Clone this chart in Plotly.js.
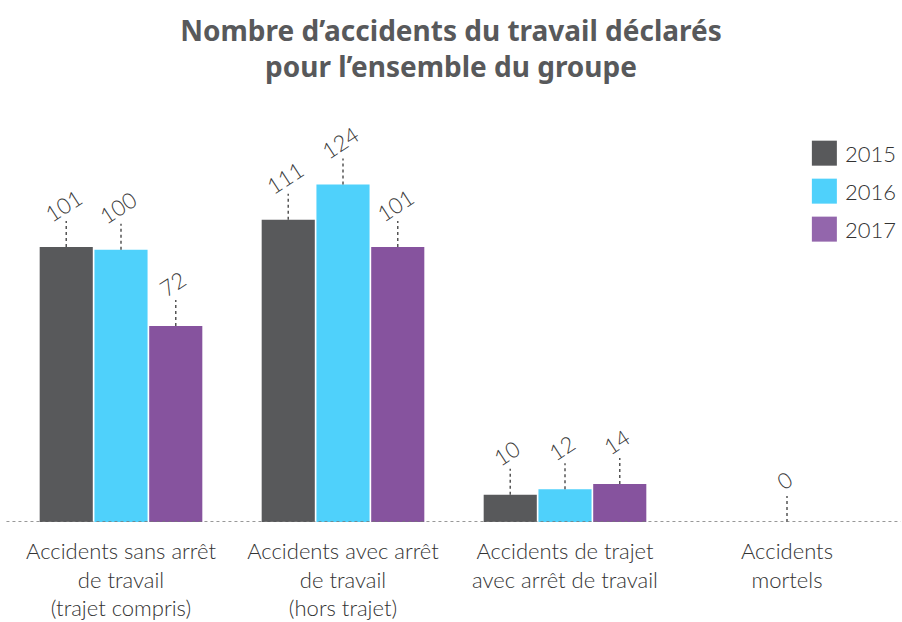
<!DOCTYPE html>
<html>
<head>
<meta charset="utf-8">
<script src="https://cdn.plot.ly/plotly-3.0.1.min.js"></script>
<style>html,body{margin:0;padding:0;background:#fff;}#chart{width:902px;height:622px;}</style>
</head>
<body>
<div id="chart"></div>
<script>
var categories = [
  "Accidents sans arrêt<br>de travail<br>(trajet compris)",
  "Accidents avec arrêt<br>de travail<br>(hors trajet)",
  "Accidents de trajet<br>avec arrêt de travail",
  "Accidents<br>mortels"
];
var years = ["2015", "2016", "2017"];
var values2015 = [101, 111, 10, 0];
var values2016 = [100, 124, 12, 0];
var values2017 = [72, 101, 14, 0];
var colors = ["#58595b", "#4fd1fb", "#86539e"];
var legendColors = ["#58595b", "#4fd1fb", "#9366ac"];

var series = [values2015, values2016, values2017];
var bargap = 0.26, bargroupgap = 0.03;
var slot = (1 - bargap) / years.length;
var lblFont = {family: "Lato, 'Source Sans Pro', sans-serif", size: 22, color: "#3a3a3a", weight: 300};

var traces = series.map(function (vals, i) {
  return {type: "bar", name: years[i], x: categories, y: vals,
    marker: {color: colors[i]}, showlegend: false, hoverinfo: "none"};
});

var shapes = [], annotations = [];
// value labels with dotted leader lines
series.forEach(function (vals, i) {
  vals.forEach(function (v, c) {
    var show = v !== 0 || i === 1; // single "0" label at the group centre
    if (!show) return;
    var xc = c + (i - (years.length - 1) / 2) * slot;
    shapes.push({type: "line", xref: "x", yref: "y", x0: xc, x1: xc,
      ysizemode: "pixel", yanchor: v, y0: 0, y1: 26,
      line: {color: "#555", width: 1.5, dash: "dot"}});
    annotations.push({xref: "x", yref: "y", x: xc, y: v, text: String(v),
      showarrow: false, textangle: -33, yshift: 42, xshift: -3,
      xanchor: "center", yanchor: "middle", font: lblFont});
  });
});
// dotted baseline
shapes.push({type: "line", xref: "paper", yref: "y", x0: -0.004, x1: 1.003, y0: 0, y1: 0,
  line: {color: "#777", width: 1.5, dash: "dot"}});
// custom legend
years.forEach(function (yr, i) {
  shapes.push({type: "rect", xref: "paper", yref: "paper", xsizemode: "pixel", ysizemode: "pixel",
    xanchor: 0.903, yanchor: 0.874 - i * 0.09, x0: 0, x1: 25, y0: -12.5, y1: 12.5,
    fillcolor: legendColors[i], line: {width: 0}});
  annotations.push({xref: "paper", yref: "paper", x: 0.903, xshift: 31, y: 0.874 - i * 0.09,
    text: yr, showarrow: false, xanchor: "left", yanchor: "middle",
    font: {family: "Lato, sans-serif", size: 22, color: "#333", weight: 300}});
});

var layout = {
  width: 902, height: 622,
  margin: {l: 10, r: 4, t: 100, b: 100},
  paper_bgcolor: "#fff", plot_bgcolor: "#fff",
  barmode: "group", bargap: bargap, bargroupgap: bargroupgap,
  title: {text: "Nombre d’accidents du travail déclarés<br>pour l’ensemble du groupe",
    x: 0.5, xanchor: "center", y: 0.934, yanchor: "middle",
    font: {family: "'Source Sans Pro', 'Noto Sans', sans-serif", size: 28, color: "#58595b", weight: 700}},
  xaxis: {type: "category", showgrid: false, zeroline: false, showline: false, ticks: "",
    ticklabelstandoff: 14,
    tickfont: {family: "Lato, sans-serif", size: 22, color: "#333", weight: 300}},
  yaxis: {range: [0, 155], visible: false, showgrid: false, zeroline: false},
  shapes: shapes, annotations: annotations,
  showlegend: false
};

Plotly.newPlot("chart", traces, layout, {staticPlot: true, displayModeBar: false});
</script>
</body>
</html>
